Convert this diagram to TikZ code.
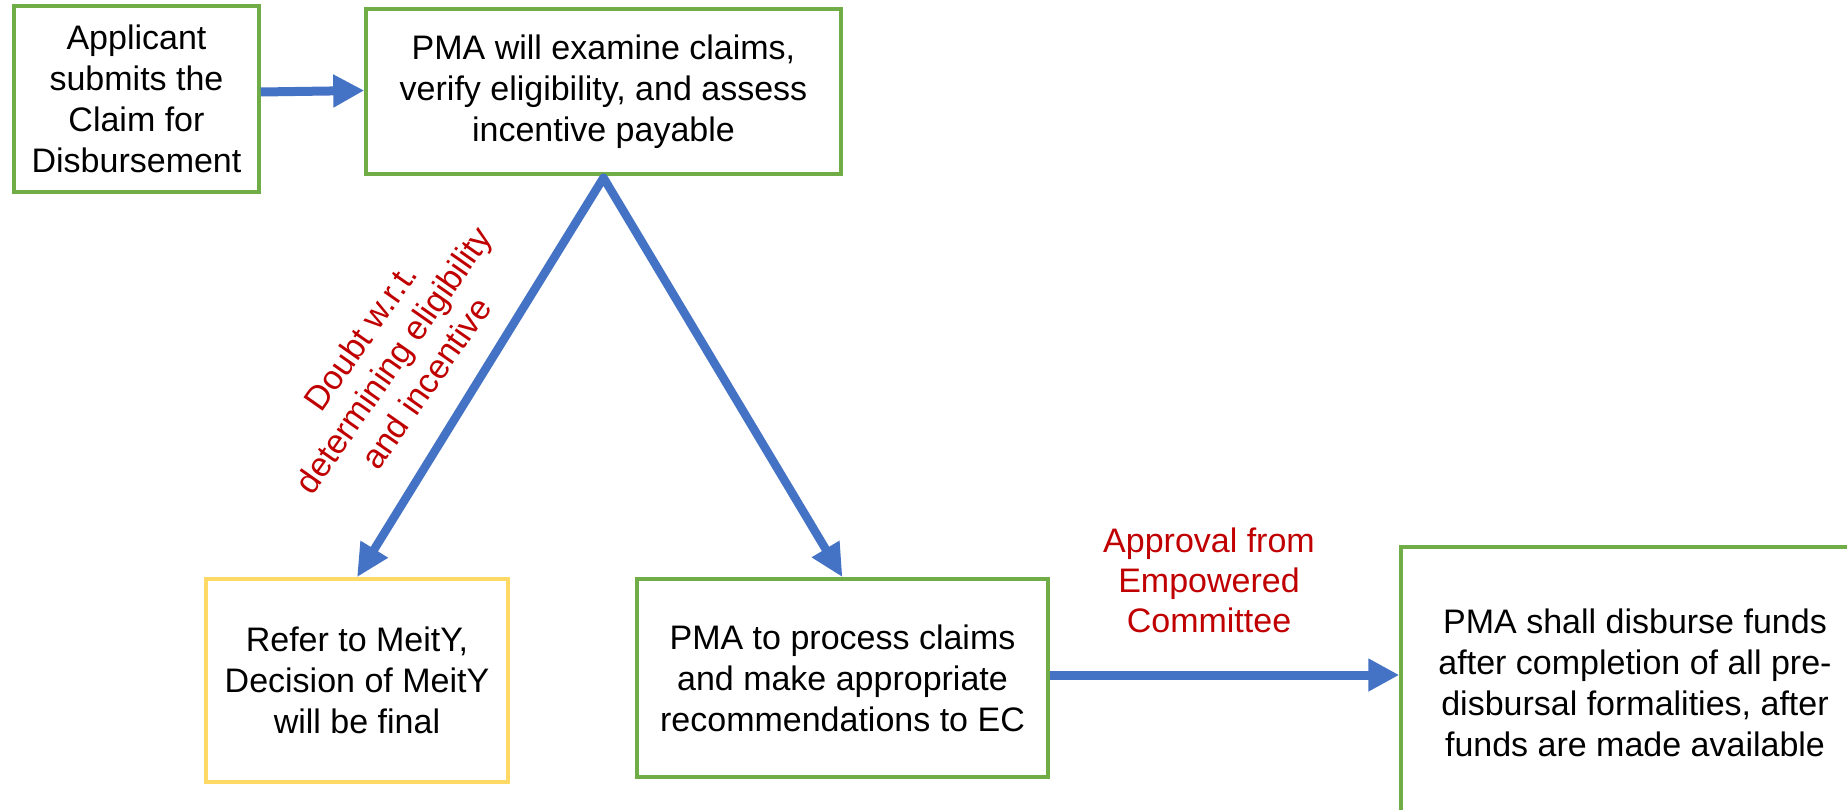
\documentclass[tikz,border=0pt]{standalone}
\usepackage{fontspec}
\setmainfont{Liberation Sans}
\usetikzlibrary{arrows.meta}
\definecolor{boxgreen}{HTML}{70AD47}
\definecolor{boxyellow}{HTML}{FFD966}
\definecolor{arrblue}{HTML}{4472C4}
\definecolor{labred}{HTML}{C00000}
\tikzset{
  box/.style={draw=boxgreen, line width=3.5pt, inner sep=0pt, align=center,
    font=\fontsize{34}{41}\selectfont},
  ybox/.style={box, draw=boxyellow},
  arr/.style={draw=arrblue, line width=9pt,
    -{Triangle[length=31pt,width=31pt]}},
  darr/.style={draw=arrblue, line width=8.5pt, line join=round,
    {Triangle[length=33pt,width=30pt]}-{Triangle[length=33pt,width=30pt]}},
  lab/.style={text=labred, align=center, inner sep=0pt,
    font=\fontsize{34}{40}\selectfont}
}
\begin{document}
\begin{tikzpicture}[x=1pt,y=-1pt]
\clip (0,0) rectangle (1847,810);
\fill[white] (0,0) rectangle (1847,810);
\node[box, minimum width=245pt, minimum height=186pt] (b1) at (136.5,99)
  {Applicant\\submits the\\Claim for\\Disbursement};
\node[box, minimum width=475pt, minimum height=165pt] (b2) at (603.5,91.5)
  {PMA will examine claims,\\verify eligibility, and assess\\incentive payable};
\node[ybox, minimum width=302pt, minimum height=203pt] (b3) at (357,680.5)
  {Refer to MeitY,\\Decision of MeitY\\will be final};
\node[box, minimum width=411pt, minimum height=198pt] (b4) at (842.5,678)
  {PMA to process claims\\and make appropriate\\recommendations to EC};
\node[box, minimum width=468pt, minimum height=272pt] (b5) at (1635,683)
  {PMA shall disburse funds\\after completion of all pre-\\disbursal formalities, after\\funds are made available};
\draw[arr] ([yshift=7pt]b1.east) -- ([yshift=1pt]b2.west);
\draw[darr] (b3.north) -- ([yshift=-2pt]b2.south) -- (b4.north);
\draw[arr] ([yshift=3pt]b4.east) -- ([yshift=3pt]b4.east -| b5.west);
\node[lab] (l1) at (1209,580) {Approval from\\Empowered\\Committee};
\node[lab, rotate=55] (l2) at (393,360) {Doubt w.r.t.\\determining eligibility\\and incentive};
\end{tikzpicture}
\end{document}
